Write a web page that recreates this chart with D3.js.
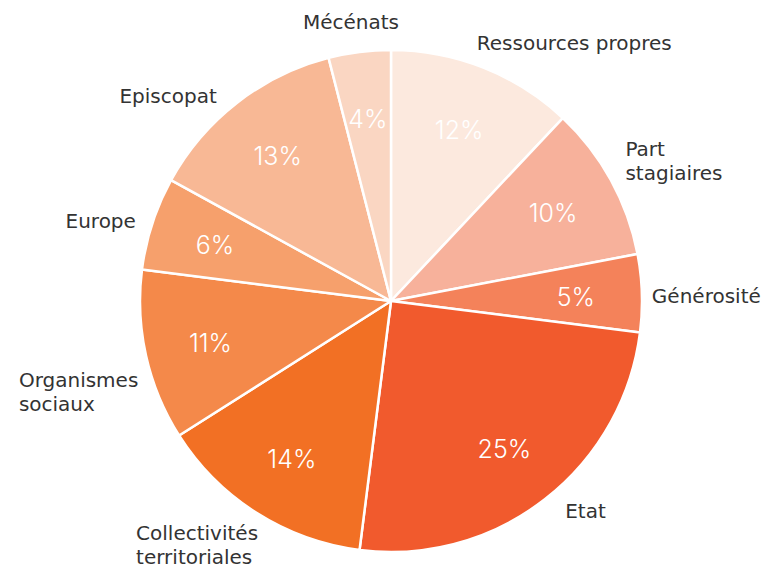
<!DOCTYPE html>
<html>
<head>
<meta charset="utf-8">
<script src="https://cdn.jsdelivr.net/npm/d3@7"></script>
<style>
  html, body { margin: 0; padding: 0; background: #ffffff; }
  svg { display: block; }
</style>
</head>
<body>
<svg id="chart" width="763" height="572"></svg>
<script>
// ---- Data ----
const categories = ["Ressources propres", "Part stagiaires", "Générosité", "Etat",
  "Collectivités territoriales", "Organismes sociaux", "Europe", "Episcopat", "Mécénats"];
const labelLines = [["Ressources propres"], ["Part", "stagiaires"], ["Générosité"], ["Etat"],
  ["Collectivités", "territoriales"], ["Organismes", "sociaux"], ["Europe"], ["Episcopat"], ["Mécénats"]];
const values = [12, 10, 5, 25, 14, 11, 6, 13, 4];
const colors = ["#FCE9DE", "#F7B19B", "#F4825A", "#F15A2D", "#F27024",
  "#F4894A", "#F6A06C", "#F8B895", "#FAD6C2"];
// label nudges (layout only)
const labelNudgeX = [-11, 4, -2, 13, 8, 4, -5, -13, 11];
const labelNudgeY = [-13, -13, 3, 2, 22, 34, 1, 3, -18];

// ---- Layout ----
const width = 763, height = 572;
const cx = 391, cy = 301, radius = 251;
const labelRadius = 263, pctRadius = 185;
const fontLabel = "'DejaVu Sans', sans-serif";
const fontPct = "Inter, 'Open Sans', sans-serif";
const fontSize = 20, lineH = 24;

const svg = d3.select("#chart");
const g = svg.append("g").attr("transform", `translate(${cx},${cy})`);

const data = categories.map((c, i) => ({
  cat: c, value: values[i], color: colors[i], lines: labelLines[i],
  nx: labelNudgeX[i], ny: labelNudgeY[i]
}));

const pie = d3.pie().value(d => d.value).sort(null);
const arcs = pie(data);
const arc = d3.arc().innerRadius(0).outerRadius(radius);
const pctArc = d3.arc().innerRadius(pctRadius).outerRadius(pctRadius);

g.selectAll("path.slice").data(arcs).enter().append("path")
  .attr("class", "slice")
  .attr("d", arc)
  .attr("fill", d => d.data.color)
  .attr("stroke", "#ffffff")
  .attr("stroke-width", 2.5)
  .attr("stroke-linejoin", "round");

const total = d3.sum(values);
g.selectAll("text.pct").data(arcs).enter().append("text")
  .attr("class", "pct")
  .attr("transform", d => `translate(${pctArc.centroid(d)})`)
  .attr("text-anchor", "middle")
  .attr("dy", "0.42em")
  .attr("fill", "#ffffff")
  .attr("font-family", fontPct)
  .attr("font-weight", 300)
  .attr("font-size", 25)
  .text(d => Math.round(d.data.value / total * 100) + "%");

// outer labels
const clamp = v => Math.max(-1, Math.min(1, v));
arcs.forEach(d => {
  const a = (d.startAngle + d.endAngle) / 2;
  const s = Math.sin(a), c = Math.cos(a);
  const px = labelRadius * s + d.data.nx, py = -labelRadius * c + d.data.ny;
  const t = g.append("text")
    .attr("fill", "#333333")
    .attr("font-family", fontLabel)
    .attr("font-size", fontSize);
  d.data.lines.forEach((ln, i) => {
    t.append("tspan").attr("x", 0).attr("y", i * lineH).text(ln);
  });
  const w = d3.max(t.selectAll("tspan").nodes(), n => n.getComputedTextLength());
  const h = d.data.lines.length * lineH;
  const fx = clamp(s * 3);
  const left = px - w * (1 - fx) / 2;
  const top = py - h / 2;
  t.selectAll("tspan").attr("x", left);
  t.attr("transform", `translate(0,${top + lineH / 2 + 7})`);
});
</script>
</body>
</html>
